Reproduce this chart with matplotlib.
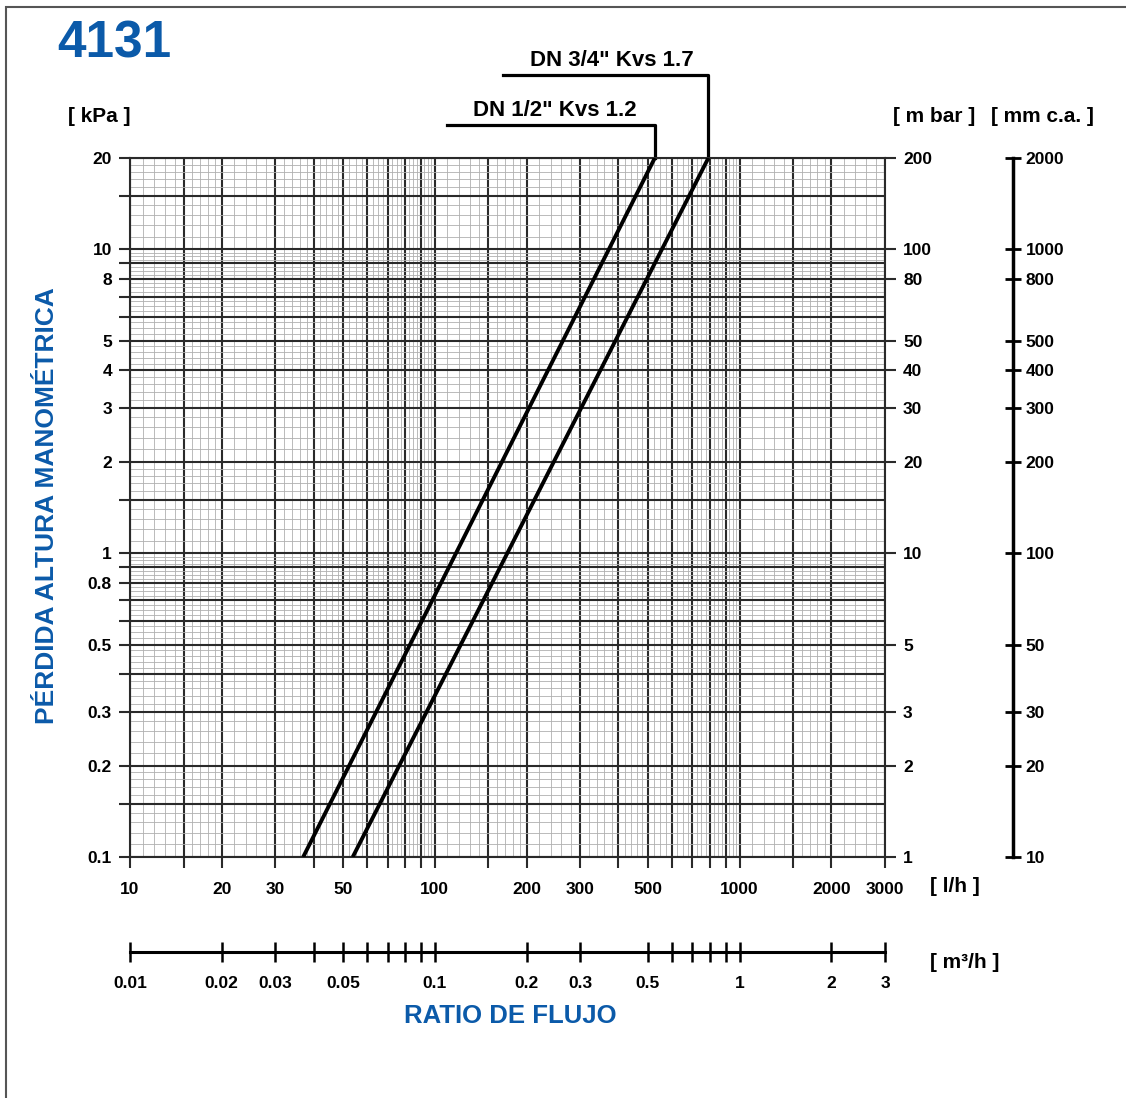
import numpy as np
import matplotlib.pyplot as plt
from matplotlib.patches import Rectangle
from matplotlib.ticker import FixedLocator, FixedFormatter, NullLocator, NullFormatter

plt.rcParams['font.family'] = ['Liberation Sans', 'DejaVu Sans']
plt.rcParams['font.weight'] = 'bold'

BLUE = '#0b5aa9'
W, H = 1126, 1098

# rectas de pérdida de carga (extremos): caudal l/h, pérdida kPa
q_dn12 = [37.0, 527]
dp_dn12 = [0.1, 20]
q_dn34 = [53.8, 790]
dp_dn34 = [0.1, 20]
names = ['DN 1/2" Kvs 1.2', 'DN 3/4" Kvs 1.7']

kpa_labels = ['0.1', '0.2', '0.3', '0.5', '0.8', '1', '2', '3', '4', '5', '8', '10', '20']
mbar_labels = ['1', '2', '3', '5', '10', '20', '30', '40', '50', '80', '100', '200']
mmca_labels = ['10', '20', '30', '50', '100', '200', '300', '400', '500', '800', '1000', '2000']
lh_labels = ['10', '20', '30', '50', '100', '200', '300', '500', '1000', '2000', '3000']
m3h_ticks = [0.01, 0.02, 0.03, 0.04, 0.05, 0.06, 0.07, 0.08, 0.09, 0.1,
             0.2, 0.3, 0.5, 0.6, 0.7, 0.8, 0.9, 1, 2, 3]
m3h_labels = ['0.01', '0.02', '0.03', '0.05', '0.1', '0.2', '0.3', '0.5', '1', '2', '3']


def px(x, y):
    return x / W, 1 - y / H


# papel logarítmico
heavy = [1, 1.5, 2, 3, 4, 5, 6, 7, 8, 9]
fine = np.concatenate([np.arange(1.1, 2, 0.1), np.arange(2.2, 5, 0.2), np.arange(5.25, 10, 0.25)])
xs_heavy = [m * d for d in (10, 100, 1000) for m in heavy if m * d <= 3000]
ys_heavy = [m * d for d in (0.1, 1, 10) for m in heavy if m * d <= 20]
xs_fine = [m * d for d in (10, 100, 1000) for m in fine if m * d < 3000]
ys_fine = [m * d for d in (0.1, 1, 10) for m in fine if m * d < 20]


def label_list(ticks, labels):
    out = []
    for t in ticks:
        s = ('%g' % t)
        out.append(s if s in labels else '')
    return out


fig = plt.figure(figsize=(W / 100, H / 100), dpi=100)
ax = fig.add_axes([130 / W, 1 - 857 / H, 755 / W, 699 / H])
ax.set_xscale('log')
ax.set_yscale('log')
ax.set_xlim(10, 3000)
ax.set_ylim(0.1, 20)

ax.xaxis.set_major_locator(FixedLocator(xs_heavy))
ax.xaxis.set_major_formatter(FixedFormatter(label_list(xs_heavy, lh_labels)))
ax.yaxis.set_major_locator(FixedLocator(ys_heavy))
ax.yaxis.set_major_formatter(FixedFormatter(label_list(ys_heavy, kpa_labels)))
ax.xaxis.set_minor_locator(FixedLocator(xs_fine))
ax.yaxis.set_minor_locator(FixedLocator(ys_fine))
ax.xaxis.set_minor_formatter(NullFormatter())
ax.yaxis.set_minor_formatter(NullFormatter())
ax.grid(which='minor', color='#b0b0b0', lw=0.6)
ax.grid(which='major', color='#2a2a2a', lw=1.5)
ax.set_axisbelow(True)
ax.tick_params(which='minor', length=0)
ax.tick_params(which='major', direction='out', length=8, width=1.5, color='#2a2a2a',
               labelsize=12.5, pad=5)
ax.tick_params(axis='x', which='major', pad=10)
for s in ax.spines.values():
    s.set_linewidth(1.5)
    s.set_color('#2a2a2a')

ax.plot(q_dn12, dp_dn12, color='black', lw=2.8, solid_capstyle='butt', zorder=5)
ax.plot(q_dn34, dp_dn34, color='black', lw=2.8, solid_capstyle='butt', zorder=5)

# líneas de referencia hacia las etiquetas
tr = ax.get_xaxis_transform()
for q, top, left_frac, name, tx, ty in [
        (q_dn12[-1], 1.047, 0.42, names[0], 473, 110),
        (q_dn34[-1], 1.119, 0.494, names[1], 530, 61)]:
    x_left = 10 ** (1 + left_frac * np.log10(300))
    ax.plot([q, q, x_left], [1.0, top, top], transform=tr, color='black', lw=2.3,
            clip_on=False, solid_joinstyle='round')
    fig.text(*px(tx, ty), name, fontsize=16, va='center', ha='left')

# escala m bar (derecha)
ax_r = ax.twinx()
ax_r.set_yscale('log')
ax_r.set_ylim(1, 200)
mbar_vals = [float(v) for v in mbar_labels]
ax_r.yaxis.set_major_locator(FixedLocator(mbar_vals))
ax_r.yaxis.set_major_formatter(FixedFormatter(mbar_labels))
ax_r.yaxis.set_minor_locator(NullLocator())
ax_r.tick_params(direction='out', length=8, width=1.5, color='#2a2a2a', labelsize=12.5, pad=5)
for s in ax_r.spines.values():
    s.set_visible(False)

# escala mm c.a.
ax_mm = fig.add_axes([1013 / W, 1 - 857 / H, 1e-4, 699 / H])
ax_mm.set_yscale('log')
ax_mm.set_ylim(10, 2000)
mm_vals = [float(v) for v in mmca_labels]
ax_mm.yaxis.tick_right()
ax_mm.yaxis.set_major_locator(FixedLocator(mm_vals))
ax_mm.yaxis.set_major_formatter(FixedFormatter(mmca_labels))
ax_mm.yaxis.set_minor_locator(NullLocator())
ax_mm.set_xticks([])
for k, s in ax_mm.spines.items():
    s.set_visible(k == 'right')
ax_mm.spines['right'].set_linewidth(2.5)
ax_mm.tick_params(direction='inout', length=12, width=2, labelsize=12.5, pad=3)
ax_mm.patch.set_visible(False)

# escala m3/h
ax_m3 = fig.add_axes([130 / W, 1 - 952 / H, 755 / W, 1e-4])
ax_m3.set_xscale('log')
ax_m3.set_xlim(0.01, 3)
ax_m3.xaxis.set_major_locator(FixedLocator(m3h_ticks))
ax_m3.xaxis.set_major_formatter(FixedFormatter(label_list(m3h_ticks, m3h_labels)))
ax_m3.xaxis.set_minor_locator(NullLocator())
ax_m3.set_yticks([])
for k, s in ax_m3.spines.items():
    s.set_visible(k == 'bottom')
ax_m3.spines['bottom'].set_linewidth(2.2)
ax_m3.tick_params(direction='inout', length=14, width=1.8, labelsize=12.5, pad=10)
ax_m3.patch.set_visible(False)

# textos
fig.text(*px(57, 44), '4131', fontsize=37, color=BLUE, va='center', ha='left')
fig.text(*px(68, 117), '[ kPa ]', fontsize=15, va='center', ha='left')
fig.text(*px(893, 117), '[ m bar ]', fontsize=15, va='center', ha='left')
fig.text(*px(991, 117), '[ mm c.a. ]', fontsize=15, va='center', ha='left')
fig.text(*px(930, 887), '[ l/h ]', fontsize=15, va='center', ha='left')
fig.text(*px(930, 962), '[ m³/h ]', fontsize=15, va='center', ha='left')
fig.text(*px(47, 506), 'PÉRDIDA ALTURA MANOMÉTRICA', fontsize=19, color=BLUE,
         rotation=90, va='center', ha='center')
fig.text(*px(510, 1016), 'RATIO DE FLUJO', fontsize=18.5, color=BLUE, va='center', ha='center')

# marco
fig.patches.append(Rectangle(px(6, 1110), 1.0, (1110 - 7) / H, transform=fig.transFigure,
                             fill=False, edgecolor='#555555', lw=1.5))

fig.savefig('out.png', dpi=100)
